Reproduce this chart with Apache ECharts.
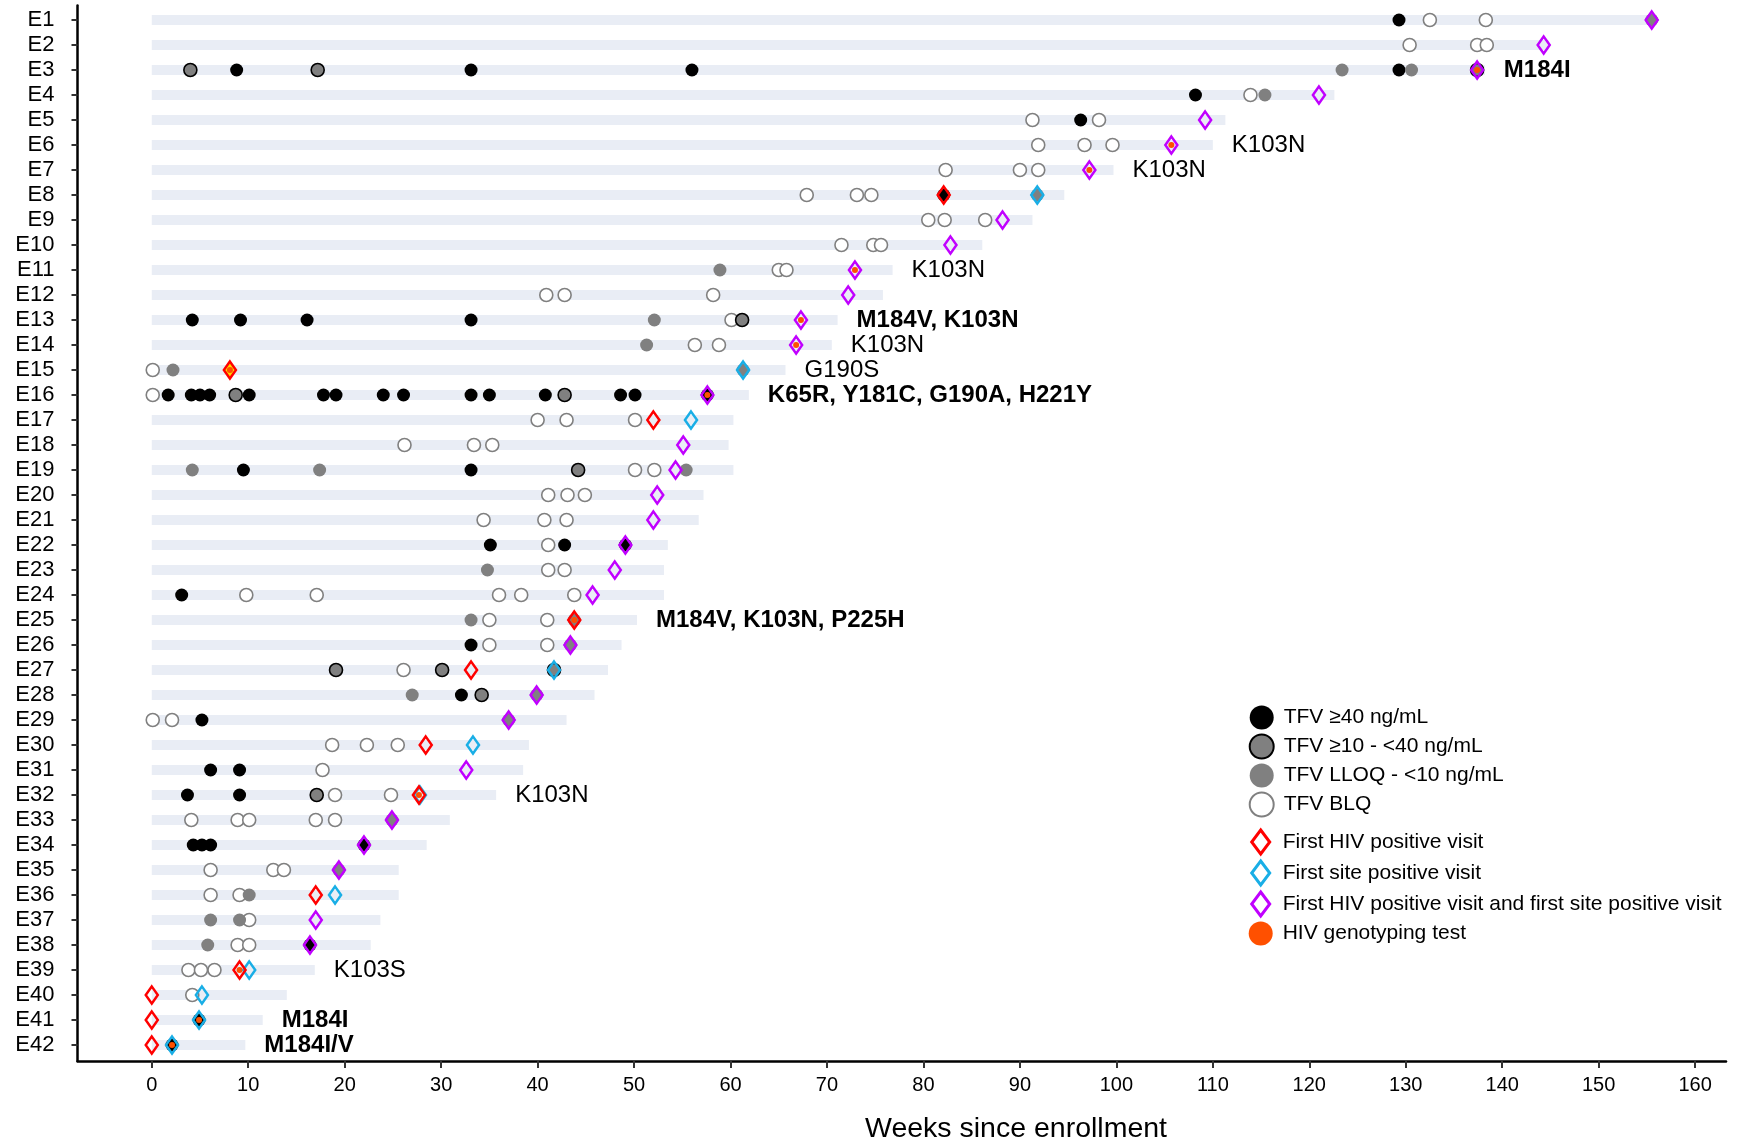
<!DOCTYPE html>
<html>
<head>
<meta charset="utf-8">
<title>Tenofovir levels and HIV detection by participant</title>
<script src="https://cdn.jsdelivr.net/npm/echarts@6/dist/echarts.min.js"></script>
<style>
  html, body { margin: 0; padding: 0; background: #fff; }
  #chart { width: 1737px; height: 1141px; }
</style>
</head>
<body>
<div id="chart"></div>
<script>
// Participants, top to bottom
const subjects = ['E1','E2','E3','E4','E5','E6','E7','E8','E9','E10','E11','E12','E13','E14',
  'E15','E16','E17','E18','E19','E20','E21','E22','E23','E24','E25','E26','E27','E28',
  'E29','E30','E31','E32','E33','E34','E35','E36','E37','E38','E39','E40','E41','E42'];

// Follow-up length (weeks) per participant, same order as subjects
const followUpEnd = [155.5, 144.8, 138.2, 122.6, 111.3, 110.0, 99.7, 94.6, 91.3, 86.1, 76.8, 75.8, 71.1, 70.5,
  65.7, 61.9, 60.3, 59.8, 60.3, 57.2, 56.7, 53.5, 53.1, 53.1, 50.3, 48.7, 47.3, 45.9,
  43.0, 39.1, 38.5, 35.7, 30.9, 28.5, 25.6, 25.6, 23.7, 22.7, 16.9, 14.0, 11.5, 9.7];

const xTicks = [0, 10, 20, 30, 40, 50, 60, 70, 80, 90, 100, 110, 120, 130, 140, 150, 160];

// TFV concentration at each visit: [participant, week]
const tfvHigh = [
  ['E1',129.3],
  ['E3',8.8],['E3',33.1],['E3',56.0],['E3',129.3],
  ['E4',108.2],['E5',96.3],['E8',82.1],
  ['E13',4.2],['E13',9.2],['E13',16.1],['E13',33.1],
  ['E16',1.7],['E16',4.1],['E16',5.0],['E16',6.0],['E16',10.1],['E16',17.8],['E16',19.1],['E16',24.0],
  ['E16',26.1],['E16',33.1],['E16',35.0],['E16',40.8],['E16',48.6],['E16',50.1],['E16',57.6],
  ['E19',9.5],['E19',33.1],
  ['E22',35.1],['E22',42.8],['E22',49.1],
  ['E24',3.1],['E26',33.1],['E28',32.1],['E29',5.2],
  ['E31',6.1],['E31',9.1],['E32',3.7],['E32',9.1],
  ['E34',4.3],['E34',5.2],['E34',6.1],['E34',22.0],
  ['E38',16.4],['E41',4.9],['E42',2.1]
];
const tfvMid = [
  ['E3',4.0],['E3',17.2],['E3',137.4],['E13',61.2],['E16',8.7],['E16',42.8],['E19',44.2],
  ['E27',19.1],['E27',30.1],['E27',41.7],['E28',34.2],['E32',17.1]
];
const tfvLow = [
  ['E1',155.5],['E3',123.4],['E3',130.6],['E4',115.4],['E8',91.8],['E11',58.9],['E13',52.1],['E14',51.3],
  ['E15',2.2],['E15',61.3],['E19',4.2],['E19',17.4],['E19',55.4],['E23',34.8],['E25',33.1],['E25',43.8],
  ['E26',43.4],['E28',27.0],['E28',39.9],['E29',37.0],['E33',24.9],['E35',19.4],['E36',10.1],
  ['E37',6.1],['E37',9.1],['E38',5.8]
];
const tfvBlq = [
  ['E1',132.5],['E1',138.3],['E2',130.4],['E2',137.4],['E2',138.4],['E4',113.9],['E5',91.3],['E5',98.2],
  ['E6',91.9],['E6',96.7],['E6',99.6],['E7',82.3],['E7',90.0],['E7',91.9],['E8',67.9],['E8',73.1],['E8',74.6],
  ['E9',80.5],['E9',82.2],['E9',86.4],['E10',71.5],['E10',74.8],['E10',75.6],['E11',65.0],['E11',65.8],
  ['E12',40.9],['E12',42.8],['E12',58.2],['E13',60.1],['E14',56.3],['E14',58.8],['E15',0.1],['E16',0.1],
  ['E17',40.0],['E17',43.0],['E17',50.1],['E18',26.2],['E18',33.4],['E18',35.3],['E19',50.1],['E19',52.1],
  ['E20',41.1],['E20',43.1],['E20',44.9],['E21',34.4],['E21',40.7],['E21',43.0],['E22',41.1],
  ['E23',41.1],['E23',42.8],['E24',9.8],['E24',17.1],['E24',36.0],['E24',38.3],['E24',43.8],
  ['E25',35.0],['E25',41.0],['E26',35.0],['E26',41.0],['E27',26.1],['E29',0.1],['E29',2.1],
  ['E30',18.7],['E30',22.3],['E30',25.5],['E31',17.7],['E32',19.0],['E32',24.8],
  ['E33',4.1],['E33',8.9],['E33',10.1],['E33',17.0],['E33',19.0],['E35',6.1],['E35',12.6],['E35',13.7],
  ['E36',6.1],['E36',9.1],['E37',10.1],['E38',8.9],['E38',10.1],['E39',3.8],['E39',5.1],['E39',6.5],['E40',4.2]
];

// HIV detection events: [participant, week]
const firstHivPositive = [
  ['E8',82.1],['E15',8.1],['E17',52.0],['E25',43.8],['E27',33.1],['E30',28.4],['E32',27.7],
  ['E36',17.0],['E39',9.1],['E40',0],['E41',0],['E42',0]
];
const firstSitePositive = [
  ['E8',91.8],['E15',61.3],['E17',55.9],['E27',41.7],['E30',33.3],['E32',27.8],['E36',19.0],
  ['E39',10.1],['E40',5.2],['E41',4.9],['E42',2.1]
];
const firstBothPositive = [
  ['E1',155.5],['E2',144.3],['E3',137.4],['E4',121.0],['E5',109.2],['E6',105.7],['E7',97.2],['E9',88.2],
  ['E10',82.8],['E11',72.9],['E12',72.2],['E13',67.3],['E14',66.8],['E16',57.6],['E18',55.1],['E19',54.3],
  ['E20',52.4],['E21',52.0],['E22',49.1],['E23',48.0],['E24',45.7],['E26',43.4],['E28',39.9],['E29',37.0],
  ['E31',32.6],['E33',24.9],['E34',22.0],['E35',19.4],['E37',17.0],['E38',16.4]
];
const genotypingTest = [
  ['E3',137.4],['E6',105.7],['E7',97.2],['E11',72.9],['E13',67.3],['E14',66.8],['E15',8.1],['E16',57.6],
  ['E25',43.8],['E32',27.7],['E39',9.1],['E41',4.9],['E42',2.1]
];

// Resistance mutations found: [participant, mutations, major]
const mutations = [
  ['E3','M184I',true],['E6','K103N',false],['E7','K103N',false],['E11','K103N',false],
  ['E13','M184V, K103N',true],['E14','K103N',false],['E15','G190S',false],
  ['E16','K65R, Y181C, G190A, H221Y',true],['E25','M184V, K103N, P225H',true],
  ['E32','K103N',false],['E39','K103S',false],['E41','M184I',true],['E42','M184I/V',true]
];

const FONT = "'Liberation Sans', Arial, Helvetica, sans-serif";
const rowOf = s => subjects.indexOf(s) + 1;
const toXY = list => list.map(([s, w]) => [w, rowOf(s)]);

const C_BAR = '#e9edf5';
const C_GRAY = '#808080';
const C_RED = '#ff0000';
const C_CYAN = '#19aee6';
const C_PURPLE = '#c000ff';
const C_ORANGE = '#ff5000';

const CIRCLE = 13;
const DIAMOND = [12, 17];

const circleSeries = (name, data, style, z) => ({
  name, type: 'scatter', data: toXY(data), symbol: 'circle', symbolSize: CIRCLE,
  itemStyle: Object.assign({ opacity: 1 }, style), z, silent: true
});
const diamondSeries = (name, data, color, z) => ({
  name, type: 'scatter', symbol: 'diamond', symbolSize: DIAMOND, z, silent: true,
  itemStyle: { color: 'rgba(0,0,0,0)', borderColor: color, borderWidth: 2.6, opacity: 1 },
  data: toXY(data).map((v, i) => {
    // E15's first positive visit is shaded inside
    if (color === C_RED && data[i][0] === 'E15') {
      return { value: v, itemStyle: { color: '#ffd800' } };
    }
    return v;
  })
});

const legendText = { fontSize: 21, color: '#000', fontFamily: FONT, lineHeight: 24 };
const diamondIcon = 'path://M9,0 L18,12 L9,24 L0,12 Z';

const chart = echarts.init(document.getElementById('chart'), null, { renderer: 'canvas' });

const option = {
  animation: false,
  backgroundColor: '#ffffff',
  textStyle: { fontFamily: FONT },
  grid: { left: 77.5, right: 11, top: 5.5, bottom: 80, containLabel: false },
  xAxis: {
    type: 'value', min: -7.7, max: 163.2,
    axisLine: { onZero: false, lineStyle: { color: '#000', width: 2.5 } },
    axisTick: { customValues: xTicks, length: 7, lineStyle: { color: '#333', width: 2 } },
    axisLabel: { customValues: xTicks, color: '#000', fontSize: 20, fontFamily: FONT, margin: 14 },
    splitLine: { show: false }
  },
  yAxis: {
    type: 'value', min: 0.42, max: 42.64, inverse: true,
    axisLine: { onZero: false, lineStyle: { color: '#000', width: 2.5 } },
    axisTick: { customValues: subjects.map((_, i) => i + 1), length: 6, lineStyle: { color: '#333', width: 2 } },
    axisLabel: {
      customValues: subjects.map((_, i) => i + 1),
      formatter: v => subjects[Math.round(v) - 1] || '',
      color: '#000', fontSize: 22, fontFamily: FONT, margin: 23
    },
    splitLine: { show: false }
  },
  legend: [
    {
      orient: 'vertical', left: 1243.7, top: 700.5, itemWidth: 34, itemHeight: 24, itemGap: 4,
      selectedMode: false, textStyle: legendText,
      data: [
        { name: 'TFV ≥40 ng/mL', icon: 'circle', itemStyle: { color: '#000', borderWidth: 0 } },
        { name: 'TFV ≥10 - <40 ng/mL', icon: 'circle', itemStyle: { color: C_GRAY, borderColor: '#000', borderWidth: 2 } },
        { name: 'TFV LLOQ - <10 ng/mL', icon: 'circle', itemStyle: { color: C_GRAY, borderWidth: 0 } },
        { name: 'TFV BLQ', icon: 'circle', itemStyle: { color: '#fff', borderColor: C_GRAY, borderWidth: 2 } }
      ]
    },
    {
      orient: 'vertical', left: 1243.7, top: 823.5, itemWidth: 34, itemHeight: 24, itemGap: 4,
      selectedMode: false, textStyle: legendText,
      data: [
        { name: 'First HIV positive visit', icon: diamondIcon, itemStyle: { color: '#fff', borderColor: C_RED, borderWidth: 3 } },
        { name: 'First site positive visit', icon: diamondIcon, itemStyle: { color: '#fff', borderColor: C_CYAN, borderWidth: 3 } },
        { name: 'First HIV positive visit and first site positive visit', icon: diamondIcon, itemStyle: { color: '#fff', borderColor: C_PURPLE, borderWidth: 3 } },
        { name: 'HIV genotyping test', icon: 'circle', itemStyle: { color: C_ORANGE, borderWidth: 0 } }
      ]
    }
  ],
  graphic: [
    {
      type: 'text', x: 1016, y: 1129, silent: true,
      style: { text: 'Weeks since enrollment', fontSize: 28.5, fontFamily: FONT, fill: '#000', align: 'center', verticalAlign: 'middle' }
    }
  ],
  series: [
    {
      name: 'follow-up', type: 'custom', z: 1, silent: true,
      data: followUpEnd.map((e, i) => [e, i + 1]),
      encode: { x: 0, y: 1 },
      renderItem: (params, api) => {
        const y = api.value(1);
        const a = api.coord([0, y]);
        const b = api.coord([api.value(0), y]);
        return { type: 'rect', shape: { x: a[0], y: a[1] - 5, width: b[0] - a[0], height: 10 }, style: { fill: C_BAR } };
      }
    },
    circleSeries('TFV BLQ', tfvBlq, { color: '#fff', borderColor: C_GRAY, borderWidth: 1.6 }, 2),
    circleSeries('TFV ≥40 ng/mL', tfvHigh, { color: '#000' }, 3),
    circleSeries('TFV ≥10 - <40 ng/mL', tfvMid, { color: C_GRAY, borderColor: '#000', borderWidth: 1.6 }, 4),
    circleSeries('TFV LLOQ - <10 ng/mL', tfvLow, { color: C_GRAY }, 5),
    diamondSeries('First site positive visit', firstSitePositive, C_CYAN, 6),
    diamondSeries('First HIV positive visit', firstHivPositive, C_RED, 7),
    diamondSeries('First HIV positive visit and first site positive visit', firstBothPositive, C_PURPLE, 8),
    {
      name: 'HIV genotyping test', type: 'scatter', symbol: 'circle', symbolSize: 6, z: 9, silent: true,
      itemStyle: { color: C_ORANGE, opacity: 1 }, data: toXY(genotypingTest)
    },
    {
      name: 'mutations', type: 'scatter', symbolSize: 0, z: 10, silent: true,
      itemStyle: { opacity: 1 },
      data: mutations.map(([s, text, major]) => ({
        value: [followUpEnd[rowOf(s) - 1], rowOf(s)],
        label: {
          show: true, position: 'right', distance: 19, formatter: text,
          fontSize: 24, fontWeight: major ? 'bold' : 'normal', color: '#000', fontFamily: FONT
        }
      }))
    }
  ]
};

chart.setOption(option);
</script>
</body>
</html>
